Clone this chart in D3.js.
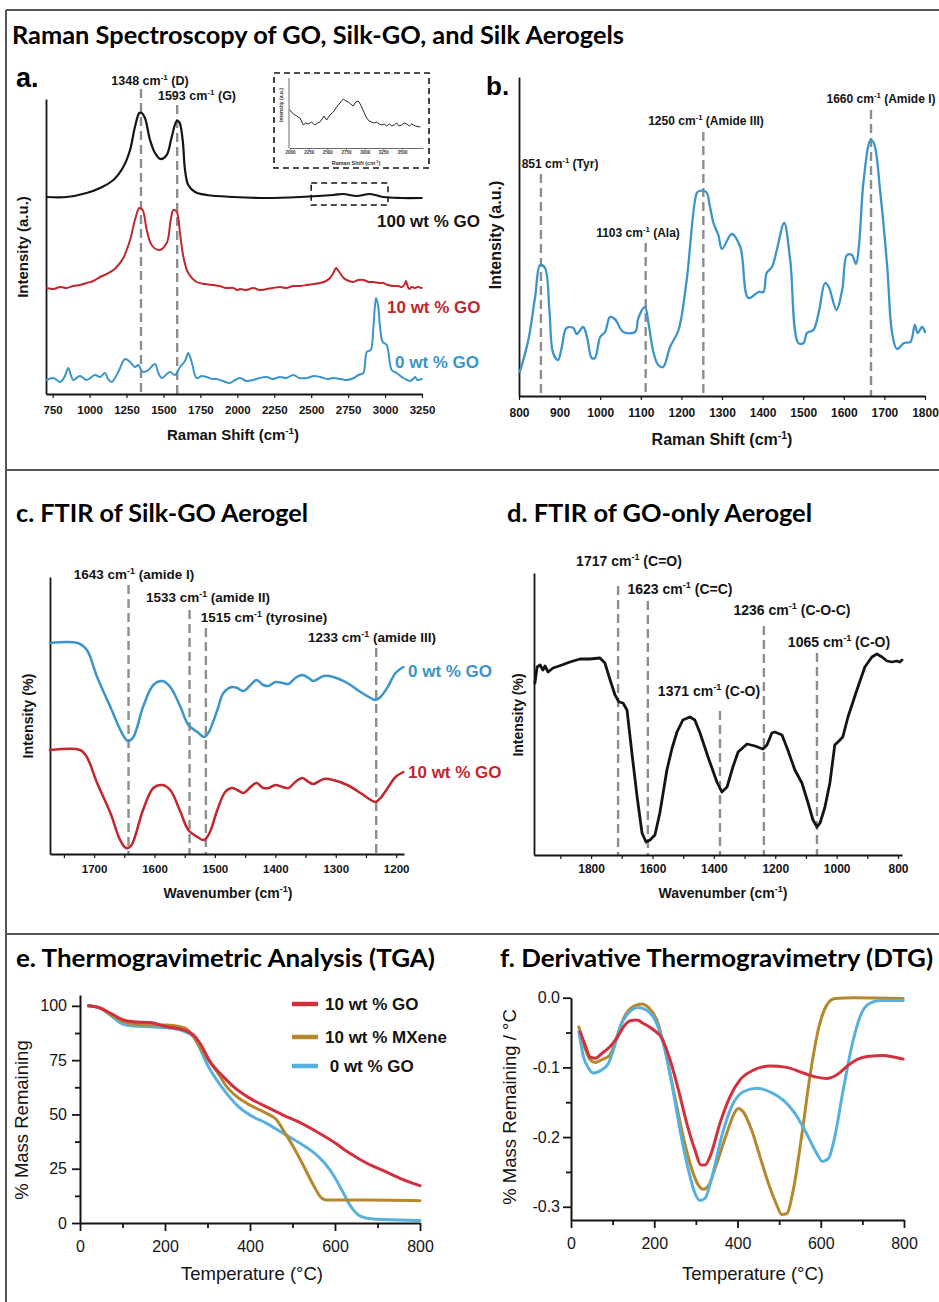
<!DOCTYPE html>
<html>
<head>
<meta charset="utf-8">
<script src="https://cdn.jsdelivr.net/npm/d3@7"></script>
<style>
body { margin: 0; background: #fff; }
svg { display: block; }
</style>
</head>
<body>
<svg id="fig" width="939" height="1302"></svg>
<script>
// ---- data ----

// a. Raman spectra (cm-1, intensity a.u.)
const ramanGO = [[710,197],[845,197],[980,201],[1071,206],[1161,214],[1228,227],[1274,244],[1307,267],[1337,281],[1353,281],[1375,276],[1409,254],[1443,241],[1481,235],[1522,239],[1556,257],[1590,273],[1607,272],[1630,254],[1646,224],[1668,209],[1714,202],[1793,199],[1973,197],[2199,196],[2424,197],[2650,199],[2717,200],[2808,198],[2898,200],[2988,197],[3101,196],[3248,196]];
const ramanSilkGO = [[710,106],[755,105],[800,107],[845,106],[890,108],[935,109],[980,111],[1025,113],[1071,117],[1115,120],[1161,124],[1195,129],[1228,136],[1274,154],[1307,174],[1337,186],[1359,184],[1387,164],[1420,149],[1472,144],[1522,151],[1549,174],[1567,184],[1590,182],[1612,161],[1635,137],[1668,121],[1725,112],[1780,110],[1837,109],[1880,108],[1920,106],[1973,106],[2000,104],[2018,105],[2060,104],[2108,106],[2150,104],[2199,105],[2240,106],[2289,107],[2330,106],[2379,108],[2420,108],[2470,109],[2520,110],[2560,111],[2600,113],[2627,116],[2650,121],[2668,126],[2685,123],[2695,121],[2720,116],[2740,114],[2785,112],[2820,114],[2853,114],[2890,112],[2920,112],[2960,111],[2988,111],[3020,109],[3056,108],[3090,108],[3113,107],[3130,109],[3142,113],[3152,108],[3164,105],[3180,107],[3200,106],[3220,107],[3248,106]];
const ramanSilk = [[710,14],[755,16],[800,12],[830,17],[856,26],[875,18],[890,14],[935,18],[980,14],[1037,19],[1071,17],[1104,21],[1125,15],[1150,12],[1194,22],[1240,35],[1274,32],[1307,27],[1330,29],[1359,22],[1397,24],[1443,30],[1465,21],[1488,16],[1544,22],[1578,19],[1612,27],[1646,33],[1668,41],[1691,32],[1725,16],[1760,18],[1793,17],[1830,15],[1860,15],[1900,13],[1950,11],[1985,14],[2018,16],[2060,13],[2108,14],[2150,16],[2199,17],[2240,15],[2289,17],[2330,16],[2379,19],[2420,16],[2470,16],[2520,18],[2560,17],[2610,15],[2650,16],[2700,15],[2740,14],[2790,16],[2819,19],[2853,21],[2876,42],[2903,44],[2921,67],[2939,96],[2954,87],[2966,67],[2984,52],[3011,49],[3045,24],[3079,21],[3124,16],[3150,14],[3169,13],[3190,15],[3203,17],[3220,14],[3248,15]];
// inset: 100 wt % GO, 2000-3750 cm-1
const insetGO = [[2000,38],[2044,34],[2090,32],[2134,30],[2178,23],[2210,25],[2245,24],[2290,26],[2335,23],[2370,25],[2402,26],[2430,29],[2455,32],[2490,28],[2536,33],[2580,36],[2615,40],[2647,43],[2680,46],[2714,49],[2750,47],[2781,46],[2815,44],[2848,42],[2880,46],[2915,47],[2940,44],[2960,41],[2995,35],[3027,30],[3060,27],[3094,26],[3130,25],[3161,26],[3195,24],[3228,23],[3262,24],[3295,22],[3330,24],[3362,22],[3395,23],[3429,25],[3460,22],[3496,23],[3530,25],[3563,24],[3600,22],[3630,24],[3680,22],[3741,21]];
const insetRegion = [2500, 3020];
const insetRegionLevel = [189, 211];
const ramanTicks = [750,1000,1250,1500,1750,2000,2250,2500,2750,3000,3250];
const insetTicks = [2000,2250,2500,2750,3000,3250,3500];
const peaksA = [{at:1348, name:"1348", group:"(D)"}, {at:1593, name:"1593", group:"(G)"}];

// b. Raman of silk aerogel
const ramanSilkB = [[802,24],[823,56],[840,100],[852,131],[864,128],[875,85],[884,43],[896,36],[905,48],[917,68],[934,68],[942,62],[958,69],[968,58],[979,38],[987,38],[1000,59],[1012,64],[1024,79],[1036,77],[1057,64],[1086,64],[1094,78],[1110,89],[1120,70],[1131,44],[1143,31],[1155,29],[1172,49],[1193,66],[1213,116],[1238,203],[1244,205],[1261,204],[1270,190],[1279,173],[1291,161],[1300,147],[1324,162],[1345,149],[1365,98],[1390,104],[1402,104],[1410,123],[1423,129],[1435,146],[1453,173],[1468,136],[1488,53],[1501,53],[1509,63],[1525,66],[1538,83],[1554,113],[1563,109],[1582,86],[1596,106],[1608,141],[1620,141],[1630,132],[1637,149],[1649,216],[1666,256],[1674,253],[1690,203],[1707,129],[1719,63],[1731,47],[1748,53],[1764,54],[1775,71],[1782,63],[1793,69],[1800,64]];
const ramanTicksB = [800,900,1000,1100,1200,1300,1400,1500,1600,1700,1800];
const peaksB = [{at:854, name:"851", group:"(Tyr)"}, {at:1112, name:"1103", group:"(Ala)"}, {at:1254, name:"1250", group:"(Amide III)"}, {at:1667, name:"1660", group:"(Amide I)"}];

// c. FTIR silk-GO (wavenumber, intensity %)
const ftirSilk = [[1773,211],[1727,211],[1712,204],[1695,177],[1673,147],[1654,121],[1644,113],[1635,117],[1619,147],[1602,169],[1587,173],[1574,167],[1557,147],[1544,129],[1529,122],[1518,117],[1511,121],[1496,144],[1486,161],[1472,167],[1463,166],[1453,163],[1441,169],[1431,174],[1420,169],[1411,168],[1400,172],[1388,171],[1378,170],[1367,176],[1355,179],[1345,176],[1337,173],[1320,178],[1304,177],[1281,171],[1259,162],[1242,156],[1234,154],[1226,157],[1214,167],[1201,181],[1188,187]];
const ftirSilkGO = [[1773,104],[1723,104],[1712,97],[1695,71],[1673,41],[1657,14],[1647,6],[1639,8],[1619,44],[1602,66],[1587,69],[1574,64],[1557,42],[1544,24],[1529,17],[1518,14],[1509,21],[1496,44],[1483,62],[1472,66],[1463,64],[1453,61],[1441,67],[1431,71],[1420,66],[1411,66],[1400,69],[1388,67],[1378,66],[1367,72],[1355,76],[1345,72],[1337,70],[1320,75],[1304,74],[1281,69],[1259,61],[1242,54],[1234,52],[1226,56],[1214,66],[1201,77],[1188,82]];
const ftirTicksC = [1750,1700,1650,1600,1550,1500,1450,1400,1350,1300,1250,1200];
const peaksC = [{at:1643, name:"1643", group:"(amide I)"}, {at:1542, name:"1533", group:"(amide II)"}, {at:1515, name:"1515", group:"(tyrosine)"}, {at:1233, name:"1233", group:"(amide III)"}];

// d. FTIR GO only
const ftirGO = [[1983,172],[1976,188],[1966,190],[1957,185],[1950,189],[1940,183],[1924,187],[1895,190],[1869,193],[1836,196],[1804,196],[1771,197],[1755,192],[1738,175],[1722,160],[1709,153],[1696,152],[1683,145],[1667,102],[1650,58],[1634,22],[1621,13],[1608,15],[1592,20],[1576,42],[1553,85],[1536,107],[1520,123],[1501,135],[1478,138],[1462,135],[1445,122],[1419,98],[1390,73],[1374,63],[1357,68],[1338,88],[1321,103],[1292,111],[1266,109],[1240,106],[1227,110],[1211,122],[1201,123],[1178,120],[1159,105],[1136,85],[1113,72],[1094,53],[1077,35],[1064,28],[1054,32],[1038,48],[1022,72],[1006,110],[989,115],[980,118],[963,138],[934,165],[908,188],[885,198],[869,201],[852,198],[836,194],[820,193],[804,194],[794,193],[787,195]];
const ftirTicksD = [1900,1800,1700,1600,1500,1400,1300,1200,1100,1000,900,800];
const peaksD = [{at:1712, name:"1717", group:"(C=O)"}, {at:1615, name:"1623", group:"(C=C)"}, {at:1380, name:"1371", group:"(C-O)"}, {at:1237, name:"1236", group:"(C-O-C)"}, {at:1064, name:"1065", group:"(C-O)"}];

// e. TGA (temperature C, % mass remaining)
const tgaGO10 = [[20,100],[47,99],[71,96.7],[102,93.5],[125,92.7],[165,92.3],[204,90.4],[243,88.9],[267,86.6],[282,82.9],[306,74.3],[337,67.4],[361,62.8],[400,57.4],[439,53.5],[478,49.7],[518,46.2],[557,42],[596,37.4],[635,32.1],[675,27.5],[714,24.1],[753,20.6],[800,17.2]];
const tgaMXene10 = [[20,100],[47,99],[71,96.3],[102,92.7],[125,91.6],[165,91.2],[204,91.2],[235,90.4],[251,89.3],[267,85.8],[282,81.2],[302,75],[325,68.9],[345,62.8],[369,58.2],[400,54.3],[439,50.5],[463,47.4],[478,42.8],[502,35.1],[525,26.7],[549,17.5],[569,11.4],[580,10.6],[675,10.6],[800,10.3]];
const tgaGO0 = [[20,100],[47,99],[71,95.8],[102,91.5],[125,90.7],[165,90.4],[204,89.9],[243,88.4],[267,85.8],[282,80.4],[298,73.5],[322,65.8],[345,59.7],[369,54.3],[400,49.7],[439,45.9],[478,41.3],[518,36.7],[557,31.3],[576,27.5],[596,22.1],[616,15.2],[635,8.3],[655,3.7],[675,2.2],[714,1.6],[800,1.2]];
const tgaSeries = ["10 wt % GO", "10 wt % MXene", " 0 wt % GO"];
const tempTicks = [0,100,200,300,400,500,600,700,800];
const massTicks = [0,12.5,25,37.5,50,62.5,75,87.5,100];

// f. DTG (temperature C, % mass remaining / C)
const dtgGO10 = [[22,-0.049],[34,-0.068],[46,-0.085],[58,-0.087],[74,-0.080],[94,-0.070],[110,-0.058],[126,-0.042],[142,-0.033],[158,-0.032],[174,-0.037],[198,-0.046],[218,-0.058],[238,-0.089],[258,-0.132],[278,-0.180],[298,-0.219],[312,-0.240],[322,-0.240],[334,-0.228],[358,-0.180],[382,-0.142],[406,-0.118],[438,-0.104],[478,-0.098],[518,-0.100],[558,-0.108],[590,-0.114],[614,-0.116],[638,-0.111],[662,-0.099],[686,-0.089],[718,-0.084],[750,-0.083],[774,-0.085],[798,-0.088]];
const dtgMXene10 = [[19,-0.042],[30,-0.066],[46,-0.089],[58,-0.093],[74,-0.089],[94,-0.082],[110,-0.056],[126,-0.030],[146,-0.014],[170,-0.009],[186,-0.014],[206,-0.032],[226,-0.075],[246,-0.132],[266,-0.190],[286,-0.238],[306,-0.269],[318,-0.275],[330,-0.270],[350,-0.238],[374,-0.195],[394,-0.164],[402,-0.159],[414,-0.164],[434,-0.190],[454,-0.228],[474,-0.266],[494,-0.297],[506,-0.311],[518,-0.310],[534,-0.276],[554,-0.199],[574,-0.113],[594,-0.046],[614,-0.011],[634,-0.001],[678,0.000],[798,-0.001]];
const dtgGO0 = [[19,-0.049],[30,-0.085],[42,-0.101],[54,-0.108],[70,-0.105],[90,-0.094],[102,-0.075],[118,-0.042],[138,-0.022],[162,-0.014],[182,-0.018],[202,-0.032],[222,-0.066],[242,-0.123],[262,-0.190],[282,-0.247],[298,-0.281],[310,-0.291],[322,-0.288],[338,-0.259],[362,-0.199],[386,-0.156],[414,-0.135],[446,-0.130],[478,-0.135],[510,-0.147],[538,-0.166],[566,-0.195],[590,-0.223],[604,-0.235],[618,-0.231],[634,-0.199],[654,-0.132],[678,-0.061],[698,-0.022],[718,-0.008],[742,-0.004],[798,-0.004]];
const dtgTicks = [0,-0.05,-0.1,-0.15,-0.2,-0.25,-0.3];

// ---- drawing ----
var svg = d3.select("#fig");
var FONT = "Arial, 'Liberation Sans', Helvetica, sans-serif";
var TITLE_FONT = "Lato, 'Open Sans', sans-serif";
var BLACK = "#141414", RED = "#c1272d", BLUE = "#3b95ca";
var TRED = "#d2303c", TGOLD = "#b5882d", TBLUE = "#57b1de";
var DASH = "#8e8e8e";

function hline(x1, x2, y) {
    svg.append("line").attr("x1", x1).attr("x2", x2).attr("y1", y).attr("y2", y)
        .attr("stroke", "#555").attr("stroke-width", 2);
}

function title(x, y, width, txt) {
    svg.append("text").attr("x", x).attr("y", y)
        .attr("font-family", TITLE_FONT).attr("font-weight", 700).attr("font-size", 24)
        .attr("textLength", width).attr("lengthAdjust", "spacingAndGlyphs")
        .text(txt);
}

// text with a "cm-1" superscript in it
function cmText(g, x, y, size, before, after, anchor) {
    var t = g.append("text").attr("x", x).attr("y", y)
        .attr("font-family", FONT).attr("font-weight", "bold").attr("font-size", size)
        .attr("text-anchor", anchor || "start").attr("fill", BLACK);
    t.append("tspan").text(before);
    t.append("tspan").attr("dy", -size * 0.4).attr("font-size", size * 0.65).text("-1");
    t.append("tspan").attr("dy", size * 0.4).text(after);
    return t;
}

function drawCurve(g, x, y, data, color, width, curve) {
    var line = d3.line()
        .x(function(d) { return x(d[0]); })
        .y(function(d) { return y(d[1]); })
        .curve(curve || d3.curveCatmullRom.alpha(0.5));
    g.append("path").datum(data).attr("d", line)
        .attr("fill", "none").attr("stroke", color).attr("stroke-width", width)
        .attr("stroke-linejoin", "round").attr("stroke-linecap", "round");
}

// bold axes used in the spectra panels: x axis with ticks, y axis without
function spectraAxes(g, x, y, ticks, isLabel, fontSize, baseline) {
    var axisY = y.range()[0];
    var pad = baseline - axisY - 4 - 0.71 * fontSize;
    var ax = g.append("g").attr("transform", "translate(0," + axisY + ")")
        .call(d3.axisBottom(x).tickValues(ticks).tickSize(4).tickSizeOuter(0).tickPadding(pad)
            .tickFormat(function(d) { return isLabel(d) ? d : ""; }));
    ax.select(".domain").attr("stroke", BLACK).attr("stroke-width", 1.8);
    ax.selectAll(".tick line").attr("stroke", BLACK).attr("stroke-width", 1.2);
    ax.selectAll("text").attr("font-family", FONT).attr("font-weight", "bold")
        .attr("font-size", fontSize).attr("fill", BLACK);
    var ay = g.append("g").attr("transform", "translate(" + x.range()[0] + ",0)")
        .call(d3.axisLeft(y).tickValues([]).tickSizeOuter(0));
    ay.select(".domain").attr("stroke", BLACK).attr("stroke-width", 1.8);
}

function yTitle(g, cx, cy, size, txt, bold) {
    g.append("text").attr("transform", "translate(" + cx + "," + cy + ") rotate(-90)")
        .attr("text-anchor", "middle").attr("dy", "0.35em")
        .attr("font-family", FONT).attr("font-weight", bold ? "bold" : "normal")
        .attr("font-size", size).attr("fill", BLACK).text(txt);
}

// dashed marker lines + labels; layout = [label centre x, label baseline, line top]
function drawPeaks(g, x, yBottom, peaks, layout, size) {
    peaks.forEach(function(p, i) {
        var L = layout[i];
        g.append("line").attr("x1", x(p.at)).attr("x2", x(p.at))
            .attr("y1", L[2]).attr("y2", yBottom)
            .attr("stroke", DASH).attr("stroke-width", 2.4).attr("stroke-dasharray", "9,5");
        cmText(g, L[0], L[1], size, p.name + " cm", " " + p.group, "middle");
    });
}

function seriesLabel(g, x, y, size, txt, color) {
    g.append("text").attr("x", x).attr("y", y)
        .attr("font-family", FONT).attr("font-weight", "bold").attr("font-size", size)
        .attr("fill", color).attr("xml:space", "preserve").text(txt);
}

// frame and section dividers
svg.append("line").attr("x1", 6).attr("x2", 6).attr("y1", 10).attr("y2", 1302)
    .attr("stroke", "#555").attr("stroke-width", 2);
hline(6, 939, 10);
hline(6, 939, 470);
hline(6, 939, 934);

title(12, 44, 612, "Raman Spectroscopy of GO, Silk-GO, and Silk Aerogels");
title(16, 522, 292, "c. FTIR of Silk-GO Aerogel");
title(507, 522, 305, "d. FTIR of GO-only Aerogel");
title(16, 967, 419, "e. Thermogravimetric Analysis (TGA)");
title(500, 967, 433, "f. Derivative Thermogravimetry (DTG)");

// ---------- panel a ----------
function panelA() {
    var g = svg.append("g");
    var x = d3.scaleLinear().domain([705, 3250]).range([46, 422]);
    var y = d3.scaleLinear().domain([0, 295]).range([394, 99]);

    g.append("text").attr("x", 16).attr("y", 87).attr("font-family", FONT)
        .attr("font-weight", "bold").attr("font-size", 27).text("a.");

    drawPeaks(g, x, 394, peaksA, [[150, 85, 89], [197, 100, 105]], 12.5);
    spectraAxes(g, x, y, ramanTicks, function() { return true; }, 11.5, 414);

    drawCurve(g, x, y, ramanSilk, BLUE, 2);
    drawCurve(g, x, y, ramanSilkGO, RED, 2);
    drawCurve(g, x, y, ramanGO, BLACK, 2.2);

    g.append("rect").attr("x", x(insetRegion[0])).attr("y", y(insetRegionLevel[1]))
        .attr("width", x(insetRegion[1]) - x(insetRegion[0]))
        .attr("height", y(insetRegionLevel[0]) - y(insetRegionLevel[1]))
        .attr("fill", "none").attr("stroke", BLACK).attr("stroke-width", 1.5)
        .attr("stroke-dasharray", "6,4");

    seriesLabel(g, 377, 227, 17, "100 wt % GO", BLACK);
    seriesLabel(g, 387, 313, 17, "10 wt % GO", RED);
    seriesLabel(g, 395, 368, 17, "0 wt % GO", BLUE);

    cmText(g, 233, 440, 15, "Raman Shift (cm", ")", "middle");
    yTitle(g, 23, 247, 15, "Intensity (a.u.)", true);

    // inset
    g.append("rect").attr("x", 274).attr("y", 73).attr("width", 155).attr("height", 95)
        .attr("fill", "#fff").attr("stroke", BLACK).attr("stroke-width", 1.6)
        .attr("stroke-dasharray", "6,4");
    var xi = d3.scaleLinear().domain([1987, 3781]).range([289, 423]);
    var yi = d3.scaleLinear().domain([0, 70]).range([148, 78]);
    var axi = g.append("g").attr("transform", "translate(0,148)")
        .call(d3.axisBottom(xi).tickValues(insetTicks).tickSize(2).tickSizeOuter(0).tickPadding(1)
            .tickFormat(d3.format("d")));
    axi.select(".domain").attr("stroke", "#444").attr("stroke-width", 0.8);
    axi.selectAll(".tick line").attr("stroke", "#444").attr("stroke-width", 0.6);
    axi.selectAll("text").attr("font-family", FONT).attr("font-size", 4.5)
        .attr("font-weight", "bold").attr("fill", "#333");
    g.append("line").attr("x1", 289).attr("x2", 289).attr("y1", 78).attr("y2", 148)
        .attr("stroke", "#444").attr("stroke-width", 0.8);
    drawCurve(g, xi, yi, insetGO, BLACK, 0.9, d3.curveLinear);
    var it = g.append("text").attr("x", 356).attr("y", 165).attr("text-anchor", "middle")
        .attr("font-family", FONT).attr("font-weight", "bold").attr("font-size", 5.5).attr("fill", "#333");
    it.append("tspan").text("Raman Shift (cm");
    it.append("tspan").attr("dy", -2).attr("font-size", 3.8).text("-1");
    it.append("tspan").attr("dy", 2).text(")");
    g.append("text").attr("transform", "translate(281,105) rotate(-90)")
        .attr("text-anchor", "middle").attr("dy", "0.35em")
        .attr("font-family", FONT).attr("font-weight", "bold").attr("font-size", 5)
        .attr("fill", "#333").text("Intensity (a.u.)");
}

// ---------- panel b ----------
function panelB() {
    var g = svg.append("g");
    var x = d3.scaleLinear().domain([800, 1800]).range([519, 925]);
    var y = d3.scaleLinear().domain([0, 319]).range([396, 77]);

    g.append("text").attr("x", 486).attr("y", 95).attr("font-family", FONT)
        .attr("font-weight", "bold").attr("font-size", 26).text("b.");

    drawPeaks(g, x, 396, peaksB,
        [[560, 168, 174], [638, 237, 243], [706, 125, 132], [881, 103, 110]], 12);
    spectraAxes(g, x, y, ramanTicksB, function() { return true; }, 12, 417);
    drawCurve(g, x, y, ramanSilkB, BLUE, 2.3);

    cmText(g, 722, 445, 16, "Raman Shift (cm", ")", "middle");
    yTitle(g, 495, 235, 16, "Intensity (a.u.)", true);
}

// ---------- panel c ----------
function panelC() {
    var g = svg.append("g");
    var x = d3.scaleLinear().domain([1773, 1187]).range([50, 404]);
    var y = d3.scaleLinear().domain([0, 277]).range([854, 577]);

    drawPeaks(g, x, 854, peaksC,
        [[134, 579, 585], [208, 602, 610], [264, 622, 628], [372, 642, 648]], 13.5);
    spectraAxes(g, x, y, ftirTicksC, function(d) { return d % 100 === 0; }, 11.5, 873);
    drawCurve(g, x, y, ftirSilk, BLUE, 2.5);
    drawCurve(g, x, y, ftirSilkGO, RED, 2.5);

    seriesLabel(g, 408, 677, 17, "0 wt % GO", BLUE);
    seriesLabel(g, 408, 778, 17, "10 wt % GO", RED);

    cmText(g, 228, 898, 14, "Wavenumber (cm", ")", "middle");
    yTitle(g, 28, 716, 14.3, "Intensity (%)", true);
}

// ---------- panel d ----------
function panelD() {
    var g = svg.append("g");
    var x = d3.scaleLinear().domain([1986, 787]).range([534, 902]);
    var y = d3.scaleLinear().domain([0, 282]).range([855, 573]);

    drawPeaks(g, x, 855, peaksD,
        [[629, 566, 586], [680, 594, 601], [709, 696, 711], [792, 615, 626], [839, 647, 653]], 14);
    spectraAxes(g, x, y, ftirTicksD, function(d) { return d % 200 === 0; }, 12, 873);
    drawCurve(g, x, y, ftirGO, BLACK, 2.8, d3.curveLinear);

    cmText(g, 723, 898, 14, "Wavenumber (cm", ")", "middle");
    yTitle(g, 518, 715, 14, "Intensity (%)", true);
}

// plain axes used in the thermal panels
function thermalAxes(g, x, y, xTicks, yTicks, isMajorX, isMajorY, fmtY, xBase, yLabelRight) {
    var axisY = y.range()[0], axisX = x.range()[0];
    var ax = g.append("g").attr("transform", "translate(0," + axisY + ")")
        .call(d3.axisBottom(x).tickValues(xTicks).tickSize(8).tickSizeOuter(0)
            .tickPadding(xBase - axisY - 8 - 0.71 * 16)
            .tickFormat(function(d) { return isMajorX(d) ? d : ""; }));
    ax.selectAll(".tick line").filter(function(d) { return !isMajorX(d); }).attr("y2", 5);
    var ay = g.append("g").attr("transform", "translate(" + axisX + ",0)")
        .call(d3.axisLeft(y).tickValues(yTicks).tickSize(8).tickSizeOuter(0)
            .tickPadding(axisX - 8 - yLabelRight)
            .tickFormat(function(d) { return isMajorY(d) ? fmtY(d) : ""; }));
    ay.selectAll(".tick line").filter(function(d) { return !isMajorY(d); }).attr("x2", -5);
    [ax, ay].forEach(function(a) {
        a.select(".domain").attr("stroke", BLACK).attr("stroke-width", 2);
        a.selectAll(".tick line").attr("stroke", BLACK).attr("stroke-width", 1.8);
        a.selectAll("text").attr("font-family", FONT).attr("font-size", 16).attr("fill", BLACK);
    });
}

// ---------- panel e ----------
function panelE() {
    var g = svg.append("g");
    var x = d3.scaleLinear().domain([0, 800]).range([80, 420]);
    var y = d3.scaleLinear().domain([0, 105]).range([1223, 995]);

    thermalAxes(g, x, y, tempTicks, massTicks,
        function(d) { return d % 200 === 0; },
        function(d) { return d % 25 === 0; },
        function(d) { return d; }, 1252, 67);

    drawCurve(g, x, y, tgaGO0, TBLUE, 3, d3.curveMonotoneX);
    drawCurve(g, x, y, tgaMXene10, TGOLD, 3, d3.curveMonotoneX);
    drawCurve(g, x, y, tgaGO10, TRED, 3, d3.curveMonotoneX);

    var colors = [TRED, TGOLD, TBLUE];
    var rows = [1004, 1037, 1066];
    tgaSeries.forEach(function(s, i) {
        g.append("line").attr("x1", 292).attr("x2", 318).attr("y1", rows[i]).attr("y2", rows[i])
            .attr("stroke", colors[i]).attr("stroke-width", 4.5);
        seriesLabel(g, 325, rows[i] + 6, 17, s, BLACK);
    });

    g.append("text").attr("x", 252).attr("y", 1280).attr("text-anchor", "middle")
        .attr("font-family", FONT).attr("font-size", 18.5).attr("fill", BLACK)
        .text("Temperature (°C)");
    yTitle(g, 22, 1120, 18.5, "% Mass Remaining", false);
}

// ---------- panel f ----------
function panelF() {
    var g = svg.append("g");
    var x = d3.scaleLinear().domain([0, 800]).range([571, 904]);
    var y = d3.scaleLinear().domain([-0.319, 0]).range([1220, 997.7]);

    thermalAxes(g, x, y, tempTicks, dtgTicks,
        function(d) { return d % 200 === 0; },
        function(d) { return Math.round(Math.abs(d) * 100) % 10 === 0; },
        function(d) { return d.toFixed(1); }, 1249, 560);

    drawCurve(g, x, y, dtgMXene10, TGOLD, 3, d3.curveMonotoneX);
    drawCurve(g, x, y, dtgGO0, TBLUE, 3, d3.curveMonotoneX);
    drawCurve(g, x, y, dtgGO10, TRED, 3, d3.curveMonotoneX);

    g.append("text").attr("x", 753).attr("y", 1280).attr("text-anchor", "middle")
        .attr("font-family", FONT).attr("font-size", 18.5).attr("fill", BLACK)
        .text("Temperature (°C)");
    yTitle(g, 510, 1107, 18.5, "% Mass Remaining / °C", false);
}

panelA();
panelB();
panelC();
panelD();
panelE();
panelF();
</script>
</body>
</html>
